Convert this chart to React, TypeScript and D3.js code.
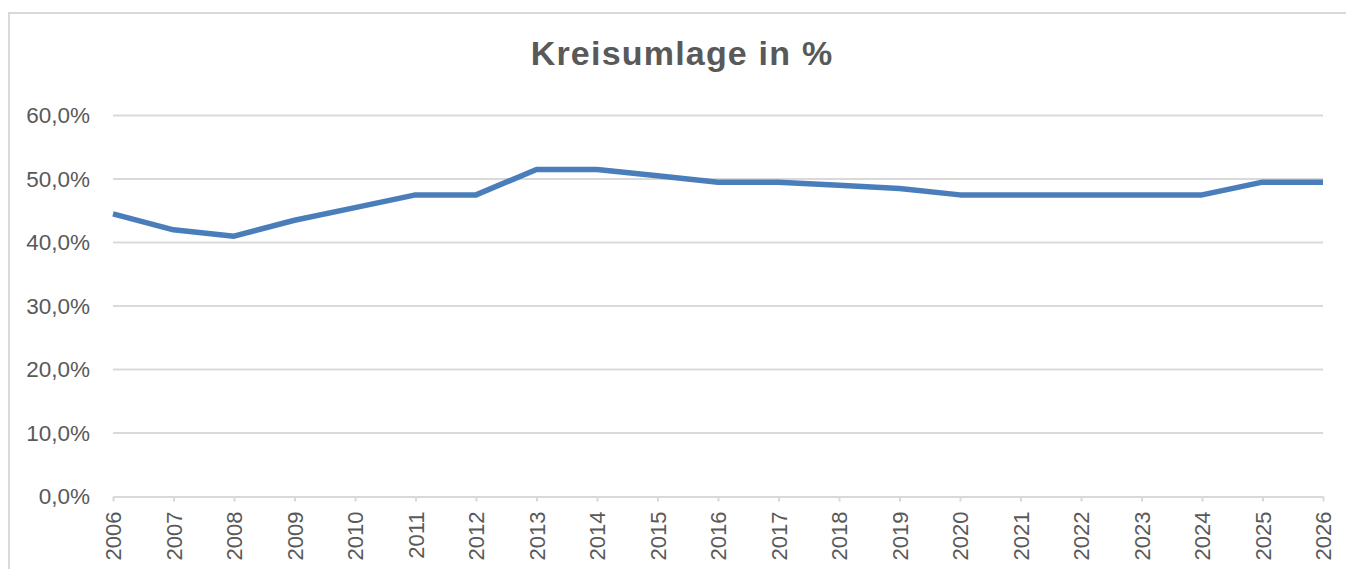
import React, { useEffect, useRef } from 'react';
import * as d3 from 'd3';

const years = [
  '2006', '2007', '2008', '2009', '2010', '2011', '2012', '2013', '2014', '2015', '2016',
  '2017', '2018', '2019', '2020', '2021', '2022', '2023', '2024', '2025', '2026',
];
const kreisumlage = [
  44.5, 42.0, 41.0, 43.5, 45.5, 47.5, 47.5, 51.5, 51.5, 50.5, 49.5,
  49.5, 49.0, 48.5, 47.5, 47.5, 47.5, 47.5, 47.5, 49.5, 49.5,
];
const yTicks = [0, 10, 20, 30, 40, 50, 60];
const title = 'Kreisumlage in %';

const App = () => {
  const svgRef = useRef<SVGSVGElement | null>(null);

  useEffect(() => {
    const width = 1346;
    const height = 569;
    const margin = { top: 115.5, right: 23, bottom: 72.5, left: 113 };
    const font = '"Liberation Sans", Arial, sans-serif';
    const textColor = '#595959';
    const gridColor = '#d9d9d9';

    const svg = d3.select(svgRef.current)
      .attr('width', width)
      .attr('height', height);

    svg.selectAll('*').remove();

    // frame around the chart area
    svg.append('rect')
      .attr('x', 9)
      .attr('y', 13)
      .attr('width', width + 20)
      .attr('height', height + 20)
      .attr('fill', 'white')
      .attr('stroke', gridColor)
      .attr('stroke-width', 2);

    const xScale = d3.scalePoint<string>()
      .domain(years)
      .range([margin.left, width - margin.right]);

    const yScale = d3.scaleLinear()
      .domain([0, 60])
      .range([height - margin.bottom, margin.top]);

    // gridlines
    svg.append('g')
      .selectAll('line')
      .data(yTicks.filter(t => t > 0))
      .enter()
      .append('line')
      .attr('x1', margin.left)
      .attr('x2', width - margin.right)
      .attr('y1', d => yScale(d))
      .attr('y2', d => yScale(d))
      .attr('stroke', gridColor)
      .attr('stroke-width', 2);

    // y labels
    const fmt = (v: number) => v.toFixed(1).replace('.', ',') + '%';
    svg.append('g')
      .selectAll('text')
      .data(yTicks)
      .enter()
      .append('text')
      .attr('x', 90)
      .attr('y', d => yScale(d))
      .attr('dy', '0.35em')
      .attr('text-anchor', 'end')
      .attr('font-family', font)
      .attr('font-size', 22.5)
      .attr('fill', textColor)
      .text(d => fmt(d));

    // x axis
    const xAxis = svg.append('g')
      .attr('transform', `translate(0,${yScale(0)})`)
      .call(d3.axisBottom(xScale).tickSize(5).tickSizeOuter(0).tickPadding(9));

    xAxis.select('.domain')
      .attr('stroke', gridColor)
      .attr('stroke-width', 2);
    xAxis.selectAll('.tick line')
      .attr('stroke', gridColor)
      .attr('stroke-width', 2);
    xAxis.selectAll('.tick text')
      .attr('transform', 'rotate(-90)')
      .attr('text-anchor', 'end')
      .attr('x', -15)
      .attr('y', 0)
      .attr('dy', '0.36em')
      .attr('font-family', font)
      .attr('font-size', 22)
      .attr('fill', textColor);

    // line
    const line = d3.line<number>()
      .x((_, i) => xScale(years[i]) as number)
      .y(d => yScale(d));

    svg.append('path')
      .datum(kreisumlage)
      .attr('d', line)
      .attr('fill', 'none')
      .attr('stroke', '#4a7ebb')
      .attr('stroke-width', 5.5)
      .attr('stroke-linejoin', 'round');

    // title
    svg.append('text')
      .attr('x', 682)
      .attr('y', 65)
      .attr('text-anchor', 'middle')
      .attr('font-family', font)
      .attr('font-size', 34)
      .attr('letter-spacing', 1.2)
      .attr('font-weight', 'bold')
      .attr('fill', textColor)
      .text(title);
  }, []);

  return (
    <div>
      <svg ref={svgRef} width={1346} height={569} style={{ position: 'absolute', left: 0, top: 0, display: 'block' }}></svg>
    </div>
  );
};

export default App;
